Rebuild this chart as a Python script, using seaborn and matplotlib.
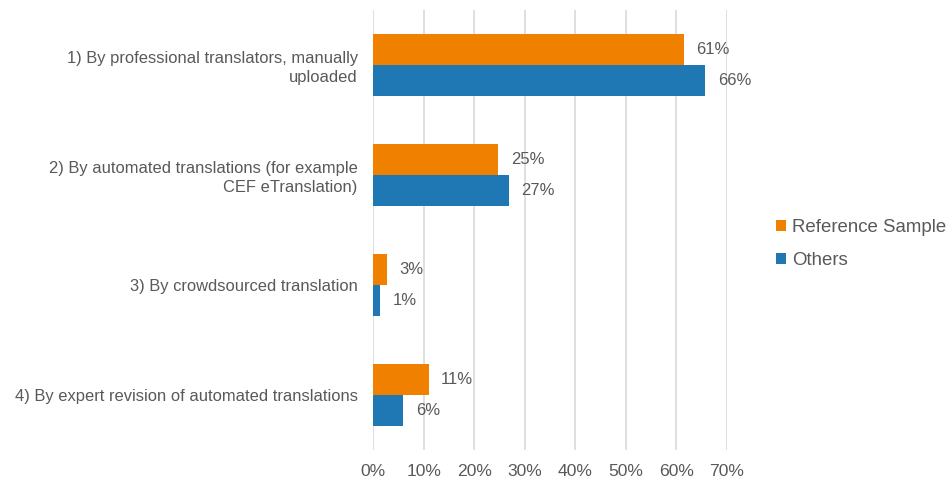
import pandas as pd
import matplotlib.pyplot as plt
import seaborn as sns

# --- data ---
categories = [
    "1) By professional translators, manually\nuploaded",
    "2) By automated translations (for example\nCEF eTranslation)",
    "3) By crowdsourced translation",
    "4) By expert revision of automated translations",
]
series = ["Reference Sample", "Others"]
ref_values = [61.4, 24.8, 2.7, 11.0]
others_values = [65.7, 26.9, 1.4, 6.0]
ref_labels = ["61%", "25%", "3%", "11%"]
others_labels = ["66%", "27%", "1%", "6%"]
x_ticks = [0, 10, 20, 30, 40, 50, 60, 70]

df = pd.DataFrame({
    "category": categories * 2,
    "series": [series[0]] * 4 + [series[1]] * 4,
    "value": ref_values + others_values,
})

sns.set_theme(style="white")
plt.rcParams['font.family'] = ['Liberation Sans', 'DejaVu Sans']
text_col = '#595959'

fig = plt.figure(figsize=(9.52, 4.87), dpi=100)
ax = fig.add_axes([0.3918, 0.076, 0.3719, 0.9035])

sns.barplot(data=df, y="category", x="value", hue="series", orient="h",
            order=categories, hue_order=series,
            palette=['#F08000', '#1F77B4'], width=0.567, saturation=1,
            linewidth=0, ax=ax)

ax.set_xlim(0, 70)
ax.set_xticks(x_ticks)
ax.set_xticklabels([f"{t}%" for t in x_ticks])
ax.set_yticks(range(len(categories)))
ax.set_yticklabels(categories, linespacing=1.3)
ax.xaxis.grid(True, color='#D9D9D9', linewidth=1.2)
ax.set_axisbelow(True)
for s in ax.spines.values():
    s.set_visible(False)
ax.set_xlabel('')
ax.set_ylabel('')
ax.tick_params(axis='x', length=0, pad=10, labelsize=12.6, labelcolor=text_col)
ax.tick_params(axis='y', length=0, pad=11, labelsize=11.9, labelcolor=text_col)

for cont, labs in zip(ax.containers, [ref_labels, others_labels]):
    ax.bar_label(cont, labels=labs, padding=9, fontsize=12, color=text_col)

handles, labels = ax.get_legend_handles_labels()
ax.legend(handles, labels, loc='center left', bbox_to_anchor=(0.8154, 0.499),
          bbox_transform=fig.transFigure, frameon=False, fontsize=13.4,
          labelcolor=text_col, handlelength=0.55, handleheight=0.55,
          handletextpad=0.3, labelspacing=0.86, borderaxespad=0, borderpad=0)

fig.savefig('out.png', dpi=100)
